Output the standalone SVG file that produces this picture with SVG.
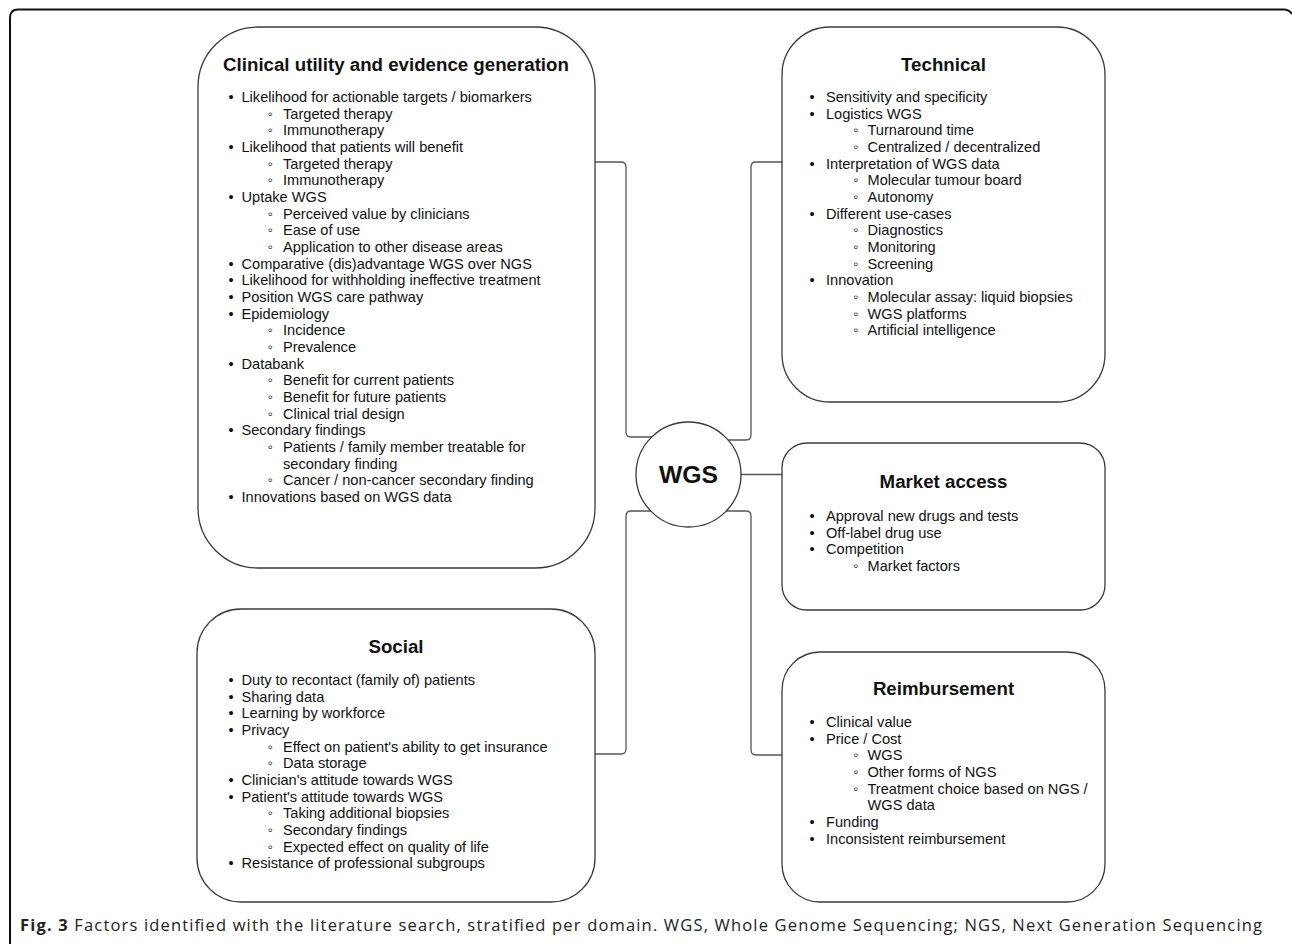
<svg xmlns="http://www.w3.org/2000/svg" width="1292" height="944" viewBox="0 0 1292 944">
<style>
.box{fill:#fff;stroke:#3a3a3a;stroke-width:1.3}
.con{fill:none;stroke:#555;stroke-width:1.3}
.frame{fill:none;stroke:#111;stroke-width:2}
text{font-family:"Liberation Sans",Arial,sans-serif;fill:#111}
.h{font-size:18.7px;font-weight:bold;text-anchor:middle}
.i{font-size:14.6px}
.b{font-size:14.6px;text-anchor:middle}
.cap{font-family:"Open Sans","Liberation Sans",sans-serif;font-size:16.5px;fill:#222}
</style>
<path class="frame" d="M10,944 V18 Q10,9.5 18,9.5 H1284 Q1289,9.5 1292,14"/>
<g id="connectors">
<path class="con" d="M595,162 H621 Q626,162 626,167 V432 Q626,437 631,437 H652"/>
<path class="con" d="M782,162 H756 Q751,162 751,167 V435 Q751,440 746,440 H728"/>
<path class="con" d="M741,474.5 H782"/>
<path class="con" d="M651,511 H631 Q626,511 626,516 V749 Q626,754 621,754 H595"/>
<path class="con" d="M726,511 H746 Q751,511 751,516 V750 Q751,755 756,755 H782"/>
</g>
<g id="wgs">
<circle class="box" cx="688.5" cy="474.5" r="52.5"/>
<text x="688.5" y="483" style="font-size:24.7px;font-weight:bold;text-anchor:middle">WGS</text>
</g>
<g id="clinical">
<rect class="box" x="198" y="27" width="397" height="541" rx="60"/>
<text class="h" x="396" y="71">Clinical utility and evidence generation</text>
<text class="b" x="231" y="102">•</text>
<text class="b" x="270" y="118.7">◦</text>
<text class="b" x="270" y="135.3">◦</text>
<text class="b" x="231" y="152">•</text>
<text class="b" x="270" y="168.7">◦</text>
<text class="b" x="270" y="185.3">◦</text>
<text class="b" x="231" y="202">•</text>
<text class="b" x="270" y="218.7">◦</text>
<text class="b" x="270" y="235.3">◦</text>
<text class="b" x="270" y="252">◦</text>
<text class="b" x="231" y="268.7">•</text>
<text class="b" x="231" y="285.3">•</text>
<text class="b" x="231" y="302">•</text>
<text class="b" x="231" y="318.7">•</text>
<text class="b" x="270" y="335.3">◦</text>
<text class="b" x="270" y="352">◦</text>
<text class="b" x="231" y="368.7">•</text>
<text class="b" x="270" y="385.3">◦</text>
<text class="b" x="270" y="402">◦</text>
<text class="b" x="270" y="418.7">◦</text>
<text class="b" x="231" y="435.3">•</text>
<text class="b" x="270" y="452">◦</text>
<text class="b" x="270" y="485.3">◦</text>
<text class="b" x="231" y="502">•</text>
<text class="i" x="241.5" y="102">Likelihood for actionable targets / biomarkers</text>
<text class="i" x="283" y="118.7">Targeted therapy</text>
<text class="i" x="283" y="135.3">Immunotherapy</text>
<text class="i" x="241.5" y="152">Likelihood that patients will benefit</text>
<text class="i" x="283" y="168.7">Targeted therapy</text>
<text class="i" x="283" y="185.3">Immunotherapy</text>
<text class="i" x="241.5" y="202">Uptake WGS</text>
<text class="i" x="283" y="218.7">Perceived value by clinicians</text>
<text class="i" x="283" y="235.3">Ease of use</text>
<text class="i" x="283" y="252">Application to other disease areas</text>
<text class="i" x="241.5" y="268.7">Comparative (dis)advantage WGS over NGS</text>
<text class="i" x="241.5" y="285.3">Likelihood for withholding ineffective treatment</text>
<text class="i" x="241.5" y="302">Position WGS care pathway</text>
<text class="i" x="241.5" y="318.7">Epidemiology</text>
<text class="i" x="283" y="335.3">Incidence</text>
<text class="i" x="283" y="352">Prevalence</text>
<text class="i" x="241.5" y="368.7">Databank</text>
<text class="i" x="283" y="385.3">Benefit for current patients</text>
<text class="i" x="283" y="402">Benefit for future patients</text>
<text class="i" x="283" y="418.7">Clinical trial design</text>
<text class="i" x="241.5" y="435.3">Secondary findings</text>
<text class="i" x="283" y="452">Patients / family member treatable for</text>
<text class="i" x="283" y="468.7">secondary finding</text>
<text class="i" x="283" y="485.3">Cancer / non-cancer secondary finding</text>
<text class="i" x="241.5" y="502">Innovations based on WGS data</text>
</g>
<g id="technical">
<rect class="box" x="782" y="27" width="323" height="375" rx="48"/>
<text class="h" x="943.5" y="71">Technical</text>
<text class="b" x="812" y="102">•</text>
<text class="b" x="812" y="118.7">•</text>
<text class="b" x="855.5" y="135.3">◦</text>
<text class="b" x="855.5" y="152">◦</text>
<text class="b" x="812" y="168.7">•</text>
<text class="b" x="855.5" y="185.3">◦</text>
<text class="b" x="855.5" y="202">◦</text>
<text class="b" x="812" y="218.7">•</text>
<text class="b" x="855.5" y="235.3">◦</text>
<text class="b" x="855.5" y="252">◦</text>
<text class="b" x="855.5" y="268.7">◦</text>
<text class="b" x="812" y="285.3">•</text>
<text class="b" x="855.5" y="302">◦</text>
<text class="b" x="855.5" y="318.7">◦</text>
<text class="b" x="855.5" y="335.3">◦</text>
<text class="i" x="826" y="102">Sensitivity and specificity</text>
<text class="i" x="826" y="118.7">Logistics WGS</text>
<text class="i" x="867.5" y="135.3">Turnaround time</text>
<text class="i" x="867.5" y="152">Centralized / decentralized</text>
<text class="i" x="826" y="168.7">Interpretation of WGS data</text>
<text class="i" x="867.5" y="185.3">Molecular tumour board</text>
<text class="i" x="867.5" y="202">Autonomy</text>
<text class="i" x="826" y="218.7">Different use-cases</text>
<text class="i" x="867.5" y="235.3">Diagnostics</text>
<text class="i" x="867.5" y="252">Monitoring</text>
<text class="i" x="867.5" y="268.7">Screening</text>
<text class="i" x="826" y="285.3">Innovation</text>
<text class="i" x="867.5" y="302">Molecular assay: liquid biopsies</text>
<text class="i" x="867.5" y="318.7">WGS platforms</text>
<text class="i" x="867.5" y="335.3">Artificial intelligence</text>
</g>
<g id="market-access">
<rect class="box" x="782" y="443" width="323" height="167" rx="25"/>
<text class="h" x="943.5" y="487.5">Market access</text>
<text class="b" x="812" y="521">•</text>
<text class="b" x="812" y="537.7">•</text>
<text class="b" x="812" y="554.3">•</text>
<text class="b" x="855.5" y="571">◦</text>
<text class="i" x="826" y="521">Approval new drugs and tests</text>
<text class="i" x="826" y="537.7">Off-label drug use</text>
<text class="i" x="826" y="554.3">Competition</text>
<text class="i" x="867.5" y="571">Market factors</text>
</g>
<g id="reimbursement">
<rect class="box" x="782" y="652" width="323" height="250" rx="38"/>
<text class="h" x="943.5" y="695">Reimbursement</text>
<text class="b" x="812" y="727">•</text>
<text class="b" x="812" y="743.7">•</text>
<text class="b" x="855.5" y="760.3">◦</text>
<text class="b" x="855.5" y="777">◦</text>
<text class="b" x="855.5" y="793.7">◦</text>
<text class="b" x="812" y="827">•</text>
<text class="b" x="812" y="843.7">•</text>
<text class="i" x="826" y="727">Clinical value</text>
<text class="i" x="826" y="743.7">Price / Cost</text>
<text class="i" x="867.5" y="760.3">WGS</text>
<text class="i" x="867.5" y="777">Other forms of NGS</text>
<text class="i" x="867.5" y="793.7">Treatment choice based on NGS /</text>
<text class="i" x="867.5" y="810.3">WGS data</text>
<text class="i" x="826" y="827">Funding</text>
<text class="i" x="826" y="843.7">Inconsistent reimbursement</text>
</g>
<g id="social">
<rect class="box" x="197" y="609" width="398" height="293" rx="44"/>
<text class="h" x="396" y="653">Social</text>
<text class="b" x="231" y="685">•</text>
<text class="b" x="231" y="701.7">•</text>
<text class="b" x="231" y="718.3">•</text>
<text class="b" x="231" y="735">•</text>
<text class="b" x="270" y="751.7">◦</text>
<text class="b" x="270" y="768.3">◦</text>
<text class="b" x="231" y="785">•</text>
<text class="b" x="231" y="801.7">•</text>
<text class="b" x="270" y="818.3">◦</text>
<text class="b" x="270" y="835">◦</text>
<text class="b" x="270" y="851.7">◦</text>
<text class="b" x="231" y="868.3">•</text>
<text class="i" x="241.5" y="685">Duty to recontact (family of) patients</text>
<text class="i" x="241.5" y="701.7">Sharing data</text>
<text class="i" x="241.5" y="718.3">Learning by workforce</text>
<text class="i" x="241.5" y="735">Privacy</text>
<text class="i" x="283" y="751.7">Effect on patient's ability to get insurance</text>
<text class="i" x="283" y="768.3">Data storage</text>
<text class="i" x="241.5" y="785">Clinician's attitude towards WGS</text>
<text class="i" x="241.5" y="801.7">Patient's attitude towards WGS</text>
<text class="i" x="283" y="818.3">Taking additional biopsies</text>
<text class="i" x="283" y="835">Secondary findings</text>
<text class="i" x="283" y="851.7">Expected effect on quality of life</text>
<text class="i" x="241.5" y="868.3">Resistance of professional subgroups</text>
</g>
<text class="cap" x="20" y="931" textLength="1242" lengthAdjust="spacing"><tspan font-weight="bold">Fig. 3</tspan> Factors identified with the literature search, stratified per domain. WGS, Whole Genome Sequencing; NGS, Next Generation Sequencing</text>
</svg>
